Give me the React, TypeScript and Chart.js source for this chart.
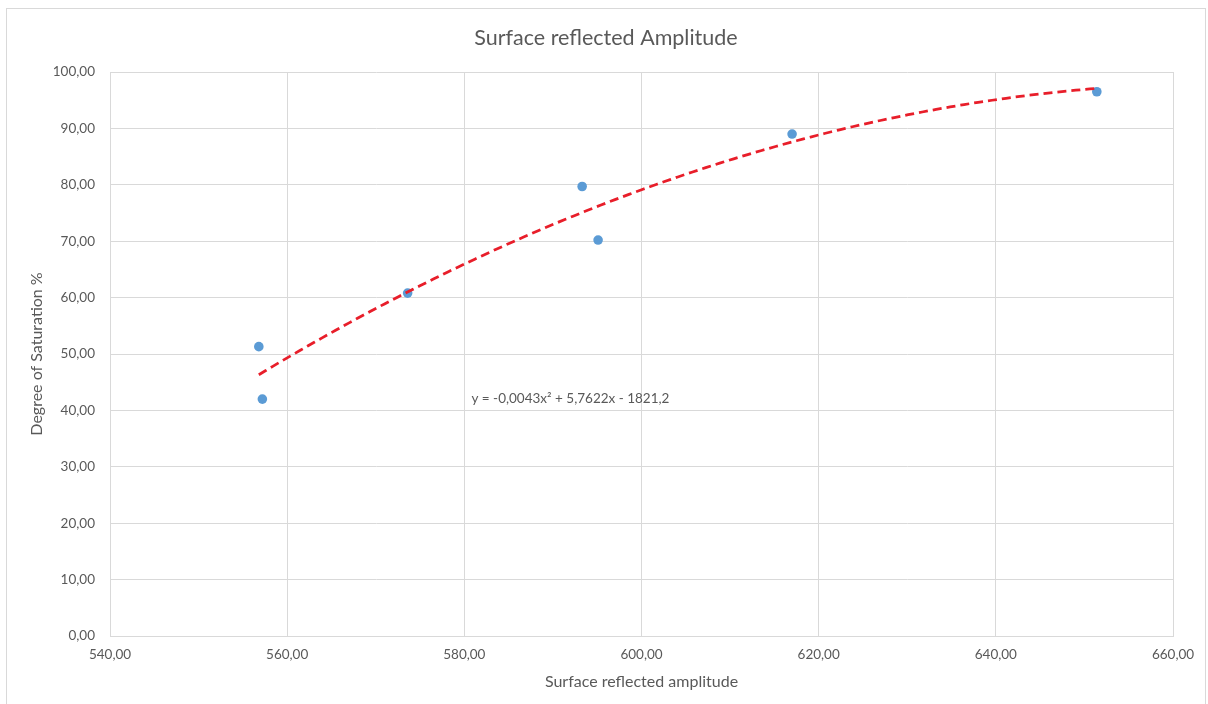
import React, { useEffect, useRef } from "react";
import { Chart, registerables } from "chart.js";

Chart.register(...registerables);

// Measured samples: surface reflected amplitude vs. degree of saturation
const amplitude = [556.8, 557.2, 573.6, 593.3, 595.1, 617.0, 651.4];
const saturation = [51.3, 42.0, 60.8, 79.7, 70.2, 89.0, 96.5];

// Polynomial trendline (order 2): y = c2·x² + c1·x + c0
const trendCoefficients = [-1821.2, 5.7622, -0.004325];

const xTickValues = [540, 560, 580, 600, 620, 640, 660];
const yTickValues = [0, 10, 20, 30, 40, 50, 60, 70, 80, 90, 100];

// Where the trendline equation sits, in data units
const equationAnchor = [580.8, 42.0];

const CHART_TITLE = "Surface reflected Amplitude";

const FONT = "Lato, 'Open Sans', sans-serif";
const TEXT = "#595959";
const GRID = "#d9d9d9";

// Outer chart frame (pixels)
const FRAME = { left: 6.5, top: 8.5, right: 1205.5 };

const fmt = (v: number, digits: number) => v.toFixed(digits).replace(".", ",");

function trendValue(x: number) {
  const [c0, c1, c2] = trendCoefficients;
  return c2 * x * x + c1 * x + c0;
}

function trendPoints() {
  const lo = Math.min(...amplitude);
  const hi = Math.max(...amplitude);
  const steps = 120;
  const pts: { x: number; y: number }[] = [];
  for (let i = 0; i <= steps; i++) {
    const x = lo + ((hi - lo) * i) / steps;
    pts.push({ x, y: trendValue(x) });
  }
  return pts;
}

function equationText() {
  const [c0, c1, c2] = trendCoefficients;
  const sign = (v: number) => (v < 0 ? "- " : "+ ");
  return `y = ${fmt(c2, 4)}x² ${sign(c1)}${fmt(Math.abs(c1), 4)}x ${sign(c0)}${fmt(Math.abs(c0), 1)}`;
}

// White background, outer frame and a title centred on the frame
const framePlugin = {
  id: "frame",
  beforeDraw(chart: any) {
    const { ctx, height } = chart;
    ctx.save();
    ctx.fillStyle = "#ffffff";
    ctx.fillRect(0, 0, chart.width, height);
    ctx.strokeStyle = GRID;
    ctx.lineWidth = 1;
    ctx.strokeRect(FRAME.left, FRAME.top, FRAME.right - FRAME.left, height + 10);
    ctx.font = `21.5px ${FONT}`;
    ctx.fillStyle = TEXT;
    ctx.textAlign = "center";
    ctx.textBaseline = "middle";
    ctx.fillText(CHART_TITLE, (FRAME.left + FRAME.right) / 2, 38);
    ctx.restore();
  },
};

const equationPlugin = {
  id: "equation",
  afterDatasetsDraw(chart: any) {
    const { ctx, scales } = chart;
    const px = scales.x.getPixelForValue(equationAnchor[0]);
    const py = scales.y.getPixelForValue(equationAnchor[1]);
    ctx.save();
    ctx.font = `13.5px ${FONT}`;
    ctx.fillStyle = TEXT;
    ctx.textAlign = "left";
    ctx.textBaseline = "middle";
    ctx.fillText(equationText(), px, py);
    ctx.restore();
  },
};

export default function App() {
  const canvasRef = useRef<HTMLCanvasElement | null>(null);

  useEffect(() => {
    const canvas = canvasRef.current;
    if (!canvas) return;
    const chart = new Chart(canvas, {
      type: "scatter",
      data: {
        datasets: [
          {
            label: "Trendline",
            data: trendPoints(),
            showLine: true,
            borderColor: "#e81e2a",
            borderWidth: 2.75,
            borderDash: [9, 5],
            pointRadius: 0,
            tension: 0,
            order: 0,
          },
          {
            label: "Degree of Saturation",
            data: amplitude.map((x, i) => ({ x, y: saturation[i] })),
            backgroundColor: "#5b9bd5",
            borderColor: "#5b9bd5",
            pointRadius: 4.8,
            borderWidth: 0,
            order: 1,
          },
        ],
      },
      options: {
        responsive: false,
        animation: false,
        layout: { padding: { left: 0, right: 35, top: 72, bottom: 0 } },
        plugins: {
          legend: { display: false },
          tooltip: { enabled: false },
          title: { display: false },
        },
        scales: {
          x: {
            type: "linear",
            min: 540,
            max: 660,
            afterBuildTicks: (scale: any) => {
              scale.ticks = xTickValues.map((value) => ({ value }));
            },
            afterFit: (scale: any) => {
              scale.height = 68;
              scale.paddingLeft = 0;
              scale.paddingRight = 0;
            },
            ticks: {
              color: TEXT,
              font: { family: FONT, size: 13.5 },
              padding: 11,
              maxRotation: 0,
              callback: (v: any) => fmt(Number(v), 2),
            },
            grid: { color: GRID, lineWidth: 1, drawTicks: false },
            border: { color: GRID, width: 1 },
            title: {
              display: true,
              text: "Surface reflected amplitude",
              color: TEXT,
              font: { family: FONT, size: 16 },
              padding: { top: 0, bottom: 12.4 },
            },
          },
          y: {
            type: "linear",
            min: 0,
            max: 100,
            afterBuildTicks: (scale: any) => {
              scale.ticks = yTickValues.map((value) => ({ value }));
            },
            afterFit: (scale: any) => {
              scale.width = 110;
              scale.paddingTop = 0;
              scale.paddingBottom = 0;
            },
            ticks: {
              color: TEXT,
              font: { family: FONT, size: 13.5 },
              padding: 15,
              callback: (v: any) => fmt(Number(v), 2),
            },
            grid: { color: GRID, lineWidth: 1, drawTicks: false },
            border: { color: GRID, width: 1 },
            title: {
              display: true,
              text: "Degree of Saturation %",
              color: TEXT,
              font: { family: FONT, size: 16 },
              padding: { top: 27.4, bottom: 0 },
            },
          },
        },
      },
      plugins: [framePlugin, equationPlugin],
    });
    return () => chart.destroy();
  }, []);

  return (
    <div style={{ position: "absolute", left: 0, top: 0, width: 1208, height: 704 }}>
      <canvas ref={canvasRef} width={1208} height={704} />
    </div>
  );
}
